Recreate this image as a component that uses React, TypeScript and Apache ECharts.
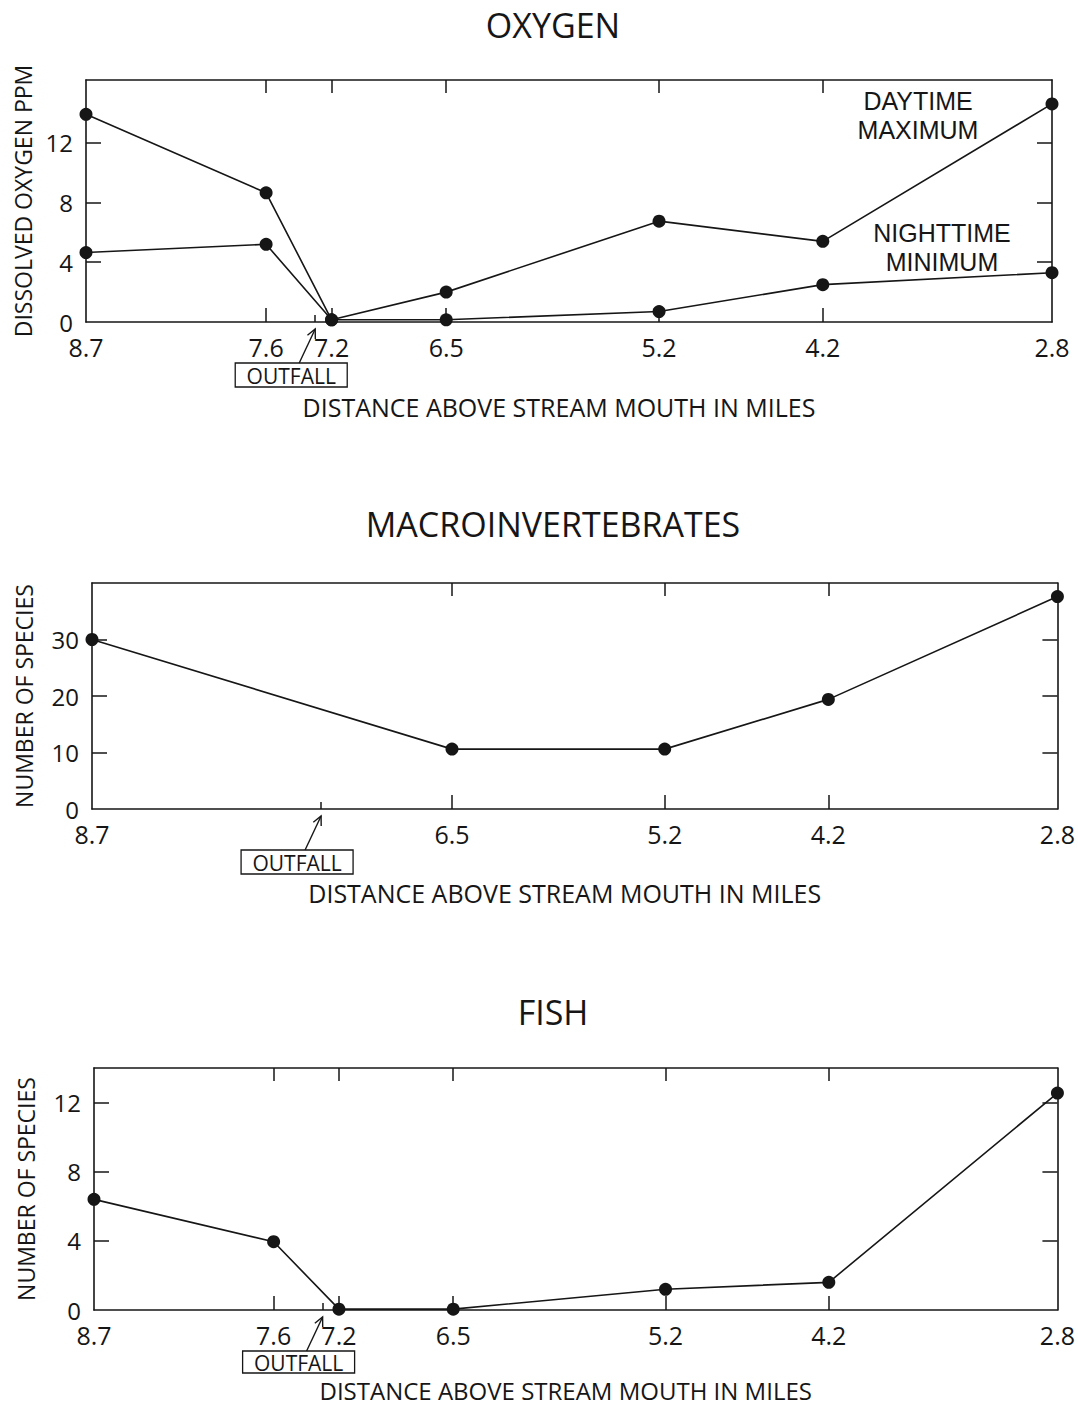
import React, { useEffect, useRef } from "react";
import * as echarts from "echarts";

const FONT = "'Open Sans', 'Noto Sans', sans-serif";
const NOTE_FONT = "'Liberation Sans', Arial, sans-serif";
const INK = "#161616";

// ---- data ----
const oxygenMiles = [8.7, 7.6, 7.2, 6.5, 5.2, 4.2, 2.8];
const oxygenDaytimeMax = [13.9, 8.65, 0.15, 2.0, 6.75, 5.4, 14.6];
const oxygenNighttimeMin = [4.65, 5.2, 0.15, 0.15, 0.7, 2.5, 3.3];

const macroMiles = [8.7, 6.5, 5.2, 4.2, 2.8];
const macroSpecies = [30, 10.6, 10.6, 19.4, 37.6];

const fishMiles = [8.7, 7.6, 7.2, 6.5, 5.2, 4.2, 2.8];
const fishSpecies = [6.4, 3.95, 0.05, 0.05, 1.2, 1.6, 12.55];

const outfallMile = 7.3;

const oxygenXLabels = [8.7, 7.6, 7.2, 6.5, 5.2, 4.2, 2.8];
const oxygenXTicks = [7.6, 7.2, 6.5, 5.2, 4.2];
const macroXLabels = [8.7, 6.5, 5.2, 4.2, 2.8];
const macroXTicks = [6.5, 5.2, 4.2];
const fishXLabels = [8.7, 7.6, 7.2, 6.5, 5.2, 4.2, 2.8];
const fishXTicks = [7.6, 7.2, 6.5, 5.2, 4.2];

const oxygenYLabels = [0, 4, 8, 12];
const oxygenYTicks = [4, 8, 12];
const macroYLabels = [0, 10, 20, 30];
const macroYTicks = [10, 20, 30];
const fishYLabels = [0, 4, 8, 12];
const fishYTicks = [4, 8, 12];

const titles = ["OXYGEN", "MACROINVERTEBRATES", "FISH"];
const yNames = ["DISSOLVED OXYGEN PPM", "NUMBER OF SPECIES", "NUMBER OF SPECIES"];
const xName = "DISTANCE ABOVE STREAM MOUTH IN MILES";
const dayLabel = ["DAYTIME", "MAXIMUM"];
const nightLabel = ["NIGHTTIME", "MINIMUM"];

const panels = [
  {
    grid: { left: 86, top: 80, width: 966, height: 242 },
    yMax: 16.2,
    xLabels: oxygenXLabels,
    xTicks: oxygenXTicks,
    yLabels: oxygenYLabels,
    yTicks: oxygenYTicks,
    yNameGap: 51,
    xNameGap: 72,
    xNameSize: 25,
    boxH: 24,
    titleY: 25,
    series: [
      { name: "DAYTIME MAXIMUM", x: oxygenMiles, y: oxygenDaytimeMax },
      { name: "NIGHTTIME MINIMUM", x: oxygenMiles, y: oxygenNighttimeMin },
    ],
  },
  {
    grid: { left: 92, top: 583, width: 966, height: 226 },
    yMax: 40,
    xLabels: macroXLabels,
    xTicks: macroXTicks,
    yLabels: macroYLabels,
    yTicks: macroYTicks,
    yNameGap: 57,
    xNameGap: 71,
    xNameSize: 25,
    boxH: 24,
    titleY: 524,
    series: [{ name: "MACROINVERTEBRATES", x: macroMiles, y: macroSpecies }],
  },
  {
    grid: { left: 94, top: 1068, width: 969, height: 242 },
    yMax: 14,
    xLabels: fishXLabels,
    xTicks: fishXTicks,
    yLabels: fishYLabels,
    yTicks: fishYTicks,
    yNameGap: 57,
    xNameGap: 68,
    xNameSize: 24,
    boxH: 22,
    titleY: 1012,
    series: [{ name: "FISH", x: fishMiles, y: fishSpecies }],
  },
];

const axisLine = { show: true, onZero: false, lineStyle: { color: INK, width: 1.6 } };
const tickStyle = { color: INK, width: 1.5 };

function buildOption() {
  const grid: any[] = [];
  const xAxis: any[] = [];
  const yAxis: any[] = [];
  const series: any[] = [];
  const graphic: any[] = [];

  panels.forEach((p, g) => {
    grid.push({ ...p.grid, containLabel: false });
    // main bottom axis
    xAxis.push({
      gridIndex: g,
      type: "value",
      inverse: true,
      min: 2.8,
      max: 8.7,
      position: "bottom",
      axisLine,
      splitLine: { show: false },
      axisTick: { show: true, inside: true, length: 14, customValues: p.xTicks, lineStyle: tickStyle },
      axisLabel: {
        show: true,
        customValues: p.xLabels,
        formatter: (v: number) => v.toFixed(1),
        fontFamily: FONT,
        fontSize: 25,
        color: INK,
        margin: 12,
      },
      name: xName,
      nameLocation: "middle",
      nameGap: p.xNameGap,
      nameTextStyle: { fontFamily: FONT, fontSize: p.xNameSize, color: INK, padding: [0, 20, 0, 0] },
    });
    // top axis (box border + ticks)
    xAxis.push({
      gridIndex: g,
      type: "value",
      inverse: true,
      min: 2.8,
      max: 8.7,
      position: "top",
      axisLine,
      splitLine: { show: false },
      axisTick: { show: true, inside: true, length: 13, customValues: p.xTicks, lineStyle: tickStyle },
      axisLabel: { show: false },
    });
    // short outfall tick
    xAxis.push({
      gridIndex: g,
      type: "value",
      inverse: true,
      min: 2.8,
      max: 8.7,
      position: "bottom",
      axisLine: { show: false, onZero: false },
      splitLine: { show: false },
      axisTick: { show: true, inside: true, length: 7, customValues: [outfallMile], lineStyle: tickStyle },
      axisLabel: { show: false },
    });
    // left y axis
    yAxis.push({
      gridIndex: g,
      type: "value",
      min: 0,
      max: p.yMax,
      position: "left",
      axisLine,
      splitLine: { show: false },
      axisTick: { show: true, inside: true, length: 15, customValues: p.yTicks, lineStyle: tickStyle },
      axisLabel: {
        show: true,
        customValues: p.yLabels,
        fontFamily: FONT,
        fontSize: 24,
        color: INK,
        margin: 13,
      },
      name: yNames[g],
      nameLocation: "middle",
      nameGap: p.yNameGap,
      nameTextStyle: { fontFamily: FONT, fontSize: 23, color: INK },
    });
    // right y axis
    yAxis.push({
      gridIndex: g,
      type: "value",
      min: 0,
      max: p.yMax,
      position: "right",
      axisLine,
      splitLine: { show: false },
      axisTick: { show: true, inside: true, length: 15, customValues: p.yTicks, lineStyle: tickStyle },
      axisLabel: { show: false },
    });

    p.series.forEach((s) => {
      series.push({
        type: "line",
        name: s.name,
        xAxisIndex: g * 3,
        yAxisIndex: g * 2,
        data: s.x.map((x, i) => [x, s.y[i]]),
        symbol: "circle",
        symbolSize: 13,
        clip: false,
        lineStyle: { color: INK, width: 1.6 },
        itemStyle: { color: INK },
        z: 5,
      });
    });

    graphic.push({
      type: "text",
      x: 553,
      y: p.titleY,
      style: {
        text: titles[g],
        fontFamily: FONT,
        fontSize: 34,
        fill: INK,
        align: "center",
        verticalAlign: "middle",
      },
    });
  });

  const note = (text: string, x: number, y: number) => ({
    type: "text",
    x,
    y,
    style: {
      text,
      fontFamily: NOTE_FONT,
      fontSize: 25,
      fill: INK,
      align: "center",
      verticalAlign: "middle",
    },
    z: 20,
  });
  graphic.push(note(dayLabel[0], 918, 101));
  graphic.push(note(dayLabel[1], 918, 130));
  graphic.push(note(nightLabel[0], 942, 233));
  graphic.push(note(nightLabel[1], 942, 262));

  return {
    animation: false,
    backgroundColor: "#ffffff",
    grid,
    xAxis,
    yAxis,
    series,
    graphic,
  };
}

function outfallGraphics(chart: any) {
  const els: any[] = [];
  panels.forEach((p, g) => {
    const tx = chart.convertToPixel({ xAxisIndex: g * 3 }, outfallMile);
    const ay = chart.convertToPixel({ yAxisIndex: g * 2 }, 0);
    const boxCx = tx - 24;
    const boxTop = ay + 41;
    const boxH = p.boxH;
    const tail = [tx - 16, ay + 41];
    const tip = [tx, ay + 7];
    const dx = tip[0] - tail[0];
    const dy = tip[1] - tail[1];
    const len = Math.sqrt(dx * dx + dy * dy);
    const ux = dx / len;
    const uy = dy / len;
    const hl = 10;
    const ang = 0.45;
    const rot = (a: number) => [
      tip[0] - hl * (ux * Math.cos(a) - uy * Math.sin(a)),
      tip[1] - hl * (ux * Math.sin(a) + uy * Math.cos(a)),
    ];
    els.push({
      type: "rect",
      shape: { x: boxCx - 56, y: boxTop, width: 112, height: boxH },
      style: { fill: "#ffffff", stroke: INK, lineWidth: 1.3 },
      z: 10,
    });
    els.push({
      type: "text",
      x: boxCx,
      y: boxTop + boxH / 2 + 0.5,
      style: {
        text: "OUTFALL",
        fontFamily: FONT,
        fontSize: 21,
        fill: INK,
        align: "center",
        verticalAlign: "middle",
      },
      z: 11,
    });
    els.push({
      type: "line",
      shape: { x1: tail[0], y1: tail[1], x2: tip[0], y2: tip[1] },
      style: { stroke: INK, lineWidth: 1.4 },
      z: 10,
    });
    const a = rot(ang);
    const b = rot(-ang);
    els.push({
      type: "polyline",
      shape: { points: [a, tip, b] },
      style: { stroke: INK, lineWidth: 1.4, fill: null },
      z: 10,
    });
  });
  return els;
}

export default function App() {
  const ref = useRef<HTMLDivElement>(null);
  useEffect(() => {
    if (!ref.current) return;
    const chart = echarts.init(ref.current, null, { renderer: "svg" });
    const option: any = buildOption();
    chart.setOption(option);
    const extra = outfallGraphics(chart);
    chart.setOption({ graphic: [...option.graphic, ...extra] }, { replaceMerge: ["graphic"] });
    return () => chart.dispose();
  }, []);
  return (
    <div
      ref={ref}
      style={{ position: "absolute", left: 0, top: 0, width: 1078, height: 1408, background: "#fff" }}
    />
  );
}
